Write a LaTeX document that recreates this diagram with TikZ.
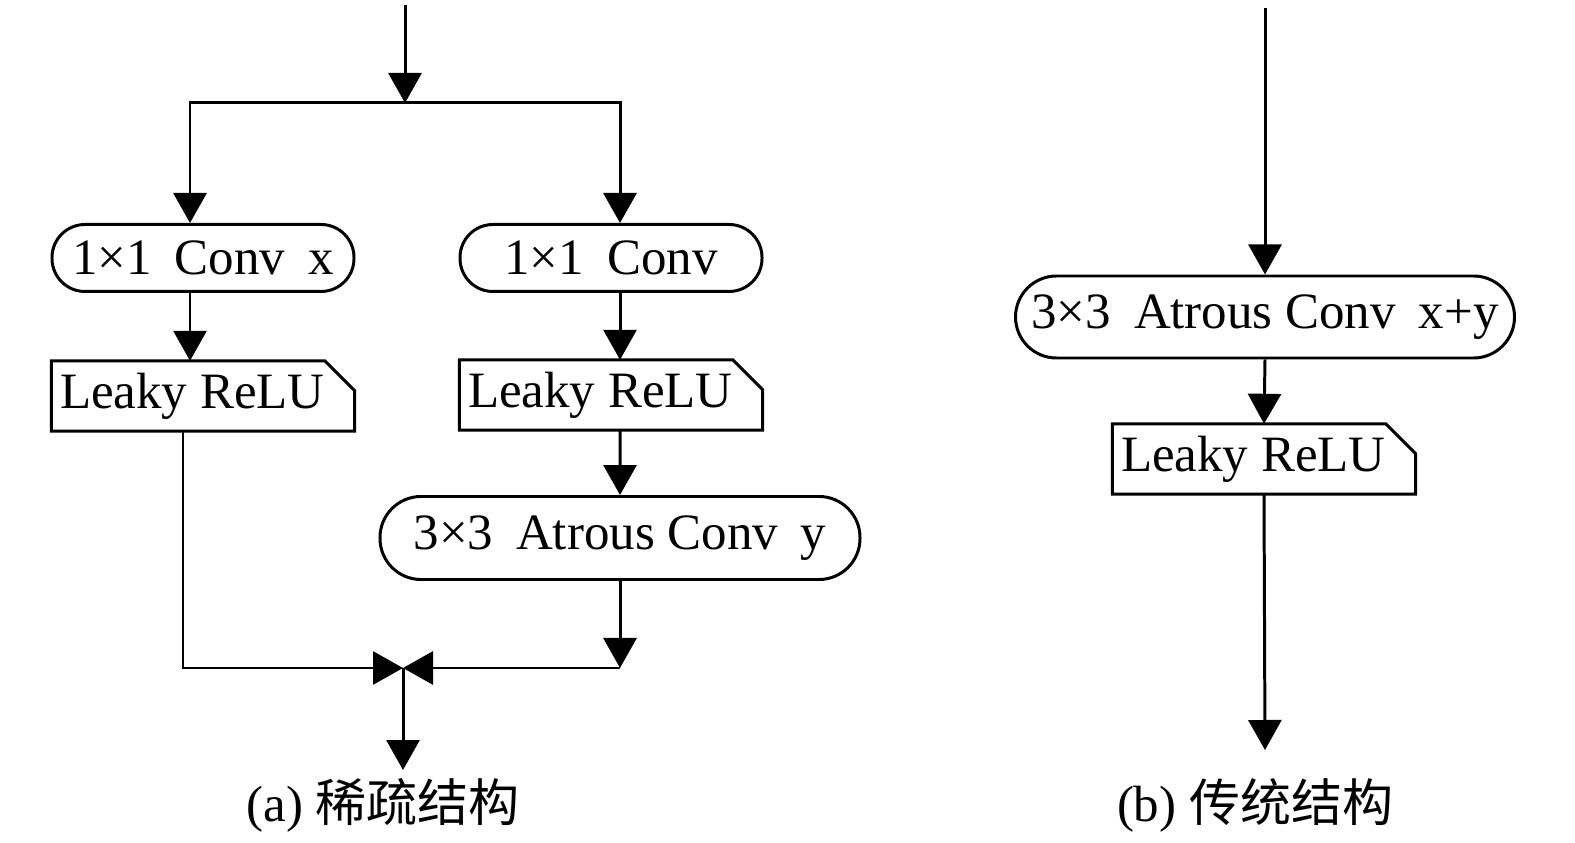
\documentclass[tikz,border=0pt]{standalone}
\usepackage{fontspec}
\setmainfont{Liberation Serif}
\newfontfamily\cjk{Noto Sans CJK SC}
\usetikzlibrary{arrows.meta, positioning}

\newcommand{\gap}{\hspace{0.45em}}

\tikzset{
  conv/.style={shape=rectangle, draw=black, line width=0.85pt, rounded corners=0.33cm,
    minimum height=0.67cm, inner sep=0pt},
  relu/.style={shape=rectangle, minimum width=3.02cm, minimum height=0.69cm, inner sep=0pt,
    text width=2.86cm, align=flush left,
    append after command={\pgfextra{\draw[line width=0.85pt]
      (\tikzlastnode.south west) -- (\tikzlastnode.north west)
      -- ([xshift=-0.3cm]\tikzlastnode.north east)
      -- ([yshift=-0.3cm]\tikzlastnode.north east)
      -- (\tikzlastnode.south east) -- cycle;}}},
  flow/.style={-{Triangle[width=0.33cm,length=0.3cm]}, line width=0.85pt}
}

\begin{document}
\begin{tikzpicture}[x=0.1mm, y=-0.1mm, font=\fontsize{14.5}{17}\selectfont]
    \useasboundingbox (0,0) rectangle (1575,843);

    % (a) sparse structure
    \coordinate (top) at (405,5);
    \coordinate (split) at (405,103);
    \node[conv, minimum width=3.02cm] (c1) at (203,258) {1×1\gap Conv\gap x};
    \node[conv, minimum width=3.02cm] (c2) at (611,258) {1×1\gap Conv};
    \node[relu] (r1) at (203,396) {Leaky ReLU};
    \node[relu] (r2) at (611,395) {Leaky ReLU};
    \node[conv, minimum width=4.8cm, minimum height=0.83cm, rounded corners=0.41cm] (a1) at (620,538) {3×3\gap Atrous Conv\gap y};
    \coordinate (turn) at (620,668);
    \coordinate (merge) at (403,668);
    \coordinate (out) at (403,770);
    \node (capa) at (383,805) {(a) {\cjk 稀疏结构}};

    \draw[flow] (top) -- (split);
    \draw[flow] (split) -| ([xshift=-1.3mm]c1.north);
    \draw[flow] (split) -| ([xshift=0.9mm]c2.north);
    \draw[flow] ([xshift=-1.3mm]c1.south) -- ([xshift=-1.3mm]r1.north);
    \draw[flow] ([xshift=0.9mm]c2.south) -- ([xshift=0.9mm]r2.north);
    \draw[flow] ([xshift=0.9mm]r2.south) -- (a1.north);
    \draw[flow] (a1.south) -- (turn);
    \draw[flow] (turn) -- (merge);
    \draw[flow] ([xshift=-2mm]r1.south) |- (merge);
    \draw[flow] (merge) -- (out);

    % (b) conventional structure
    \coordinate (top2) at (1265,8);
    \node[conv, minimum width=4.99cm, minimum height=0.82cm, rounded corners=0.41cm] (a2) at (1265,317) {3×3\gap Atrous Conv\gap x+y};
    \node[relu] (r3) at (1264,459) {Leaky ReLU};
    \coordinate (out2) at (1265,750);
    \node (capb) at (1255,805) {(b) {\cjk 传统结构}};

    \draw[flow] (top2) -- (a2.north);
    \draw[flow] (a2.south) -- (r3.north);
    \draw[flow] (r3.south) -- (out2);
\end{tikzpicture}
\end{document}
